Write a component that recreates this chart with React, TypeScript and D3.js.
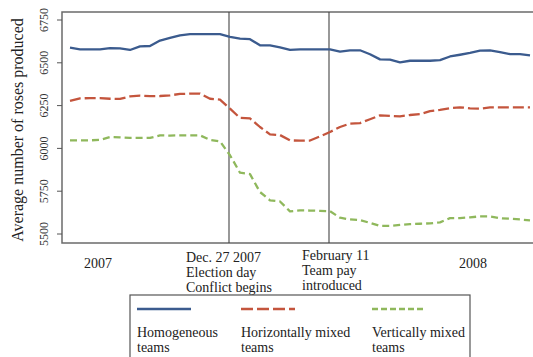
import React from "react";
import * as d3 from "d3";

const homogeneous = [6588, 6579, 6579, 6579, 6586, 6584, 6575, 6596, 6598, 6630, 6645, 6660, 6668, 6668, 6668, 6668, 6652, 6641, 6638, 6602, 6602, 6590, 6576, 6579, 6579, 6579, 6579, 6565, 6572, 6573, 6550, 6520, 6518, 6503, 6512, 6512, 6512, 6516, 6537, 6547, 6558, 6571, 6573, 6563, 6551, 6551, 6544];
const horizontal = [6277, 6292, 6294, 6294, 6290, 6289, 6304, 6308, 6305, 6306, 6310, 6318, 6320, 6320, 6290, 6285, 6232, 6178, 6175, 6125, 6082, 6078, 6047, 6045, 6046, 6070, 6096, 6125, 6145, 6148, 6170, 6193, 6190, 6187, 6195, 6200, 6218, 6225, 6235, 6240, 6234, 6232, 6240, 6240, 6240, 6240, 6240];
const vertical = [6047, 6047, 6047, 6050, 6066, 6064, 6061, 6061, 6061, 6076, 6075, 6076, 6076, 6076, 6050, 6041, 5960, 5858, 5850, 5745, 5697, 5690, 5632, 5638, 5637, 5635, 5633, 5595, 5585, 5581, 5565, 5547, 5547, 5553, 5558, 5560, 5562, 5568, 5593, 5593, 5597, 5603, 5603, 5592, 5589, 5585, 5580];

const yTicks = [5500, 5750, 6000, 6250, 6500, 6750];
const eventIdx = [15.9, 25.9];
const eventLabels = [
  ["Dec. 27 2007", "Election day", "Conflict begins"],
  ["February 11", "Team pay", "introduced"],
];
const yearLabels = [
  { label: "2007", idx: 2.8 },
  { label: "2008", idx: 40.3 },
];
const seriesNames = [
  ["Homogeneous", "teams"],
  ["Horizontally mixed", "teams"],
  ["Vertically mixed", "teams"],
];

const colors = ["#3b5b8e", "#c4553d", "#8fb85c"];
const dashes = ["none", "11 4", "7 4"];
const legendDashes = ["none", "12 4", "6 3"];

const FONT = "'Liberation Serif', 'Times New Roman', serif";

export default function App() {
  const x = d3.scaleLinear().domain([0, 46]).range([70, 530]);
  const y = d3.scaleLinear().domain([5500, 6750]).range([234, 20]);
  const line = d3
    .line<number>()
    .x((_, i) => x(i))
    .y((d) => y(d));
  const series = [homogeneous, horizontal, vertical];
  const left = 62,
    top = 12,
    bottom = 243;
  const legendX = [137, 241, 372];

  return (
    <svg
      width={533}
      height={357}
      style={{ position: "absolute", left: 0, top: 0, background: "#fff" }}
      fontFamily={FONT}
    >
      <rect x={0} y={0} width={533} height={357} fill="#fff" />
      <path
        d={`M540,${top}H${left}V${bottom}H540`}
        fill="none"
        stroke="#6b6b6b"
        strokeWidth={1.5}
      />
      {yTicks.map((t) => (
        <g key={t}>
          <line x1={57} x2={left} y1={y(t)} y2={y(t)} stroke="#555" strokeWidth={1} />
          <text
            transform={`translate(48,${y(t)}) rotate(-90)`}
            textAnchor="middle"
            fontSize={12}
            fill="#333"
          >
            {t}
          </text>
        </g>
      ))}
      <text
        transform={`translate(23,130) rotate(-90)`}
        textAnchor="middle"
        fontSize={16}
        fill="#222"
      >
        Average number of roses produced
      </text>
      {eventIdx.map((e) => (
        <line key={e} x1={x(e)} x2={x(e)} y1={top} y2={bottom} stroke="#444" strokeWidth={1.1} />
      ))}
      {series.map((s, i) => (
        <path
          key={i}
          d={line(s) || ""}
          fill="none"
          stroke={colors[i]}
          strokeWidth={2.3}
          strokeDasharray={dashes[i]}
          strokeLinejoin="round"
        />
      ))}
      {yearLabels.map((yl) => (
        <text key={yl.label} x={x(yl.idx)} y={268} textAnchor="middle" fontSize={14} fill="#222">
          {yl.label}
        </text>
      ))}
      {eventLabels.map((lines, k) => (
        <text key={k} fontSize={14} fill="#222">
          {lines.map((l, j) => (
            <tspan key={j} x={x(eventIdx[k]) - (k === 0 ? 43 : 27)} y={(k === 0 ? 262 : 260) + j * 15}>
              {l}
            </tspan>
          ))}
        </text>
      ))}
      <rect x={130} y={295} width={340} height={80} fill="#fff" stroke="#555" strokeWidth={1.2} />
      {seriesNames.map((n, i) => (
        <g key={i}>
          <line
            x1={legendX[i]}
            x2={legendX[i] + 54}
            y1={309}
            y2={309}
            stroke={colors[i]}
            strokeWidth={2.3}
            strokeDasharray={legendDashes[i]}
          />
          <text fontSize={14} fill="#222">
            <tspan x={legendX[i]} y={337}>
              {n[0]}
            </tspan>
            <tspan x={legendX[i]} y={352}>
              {n[1]}
            </tspan>
          </text>
        </g>
      ))}
    </svg>
  );
}
